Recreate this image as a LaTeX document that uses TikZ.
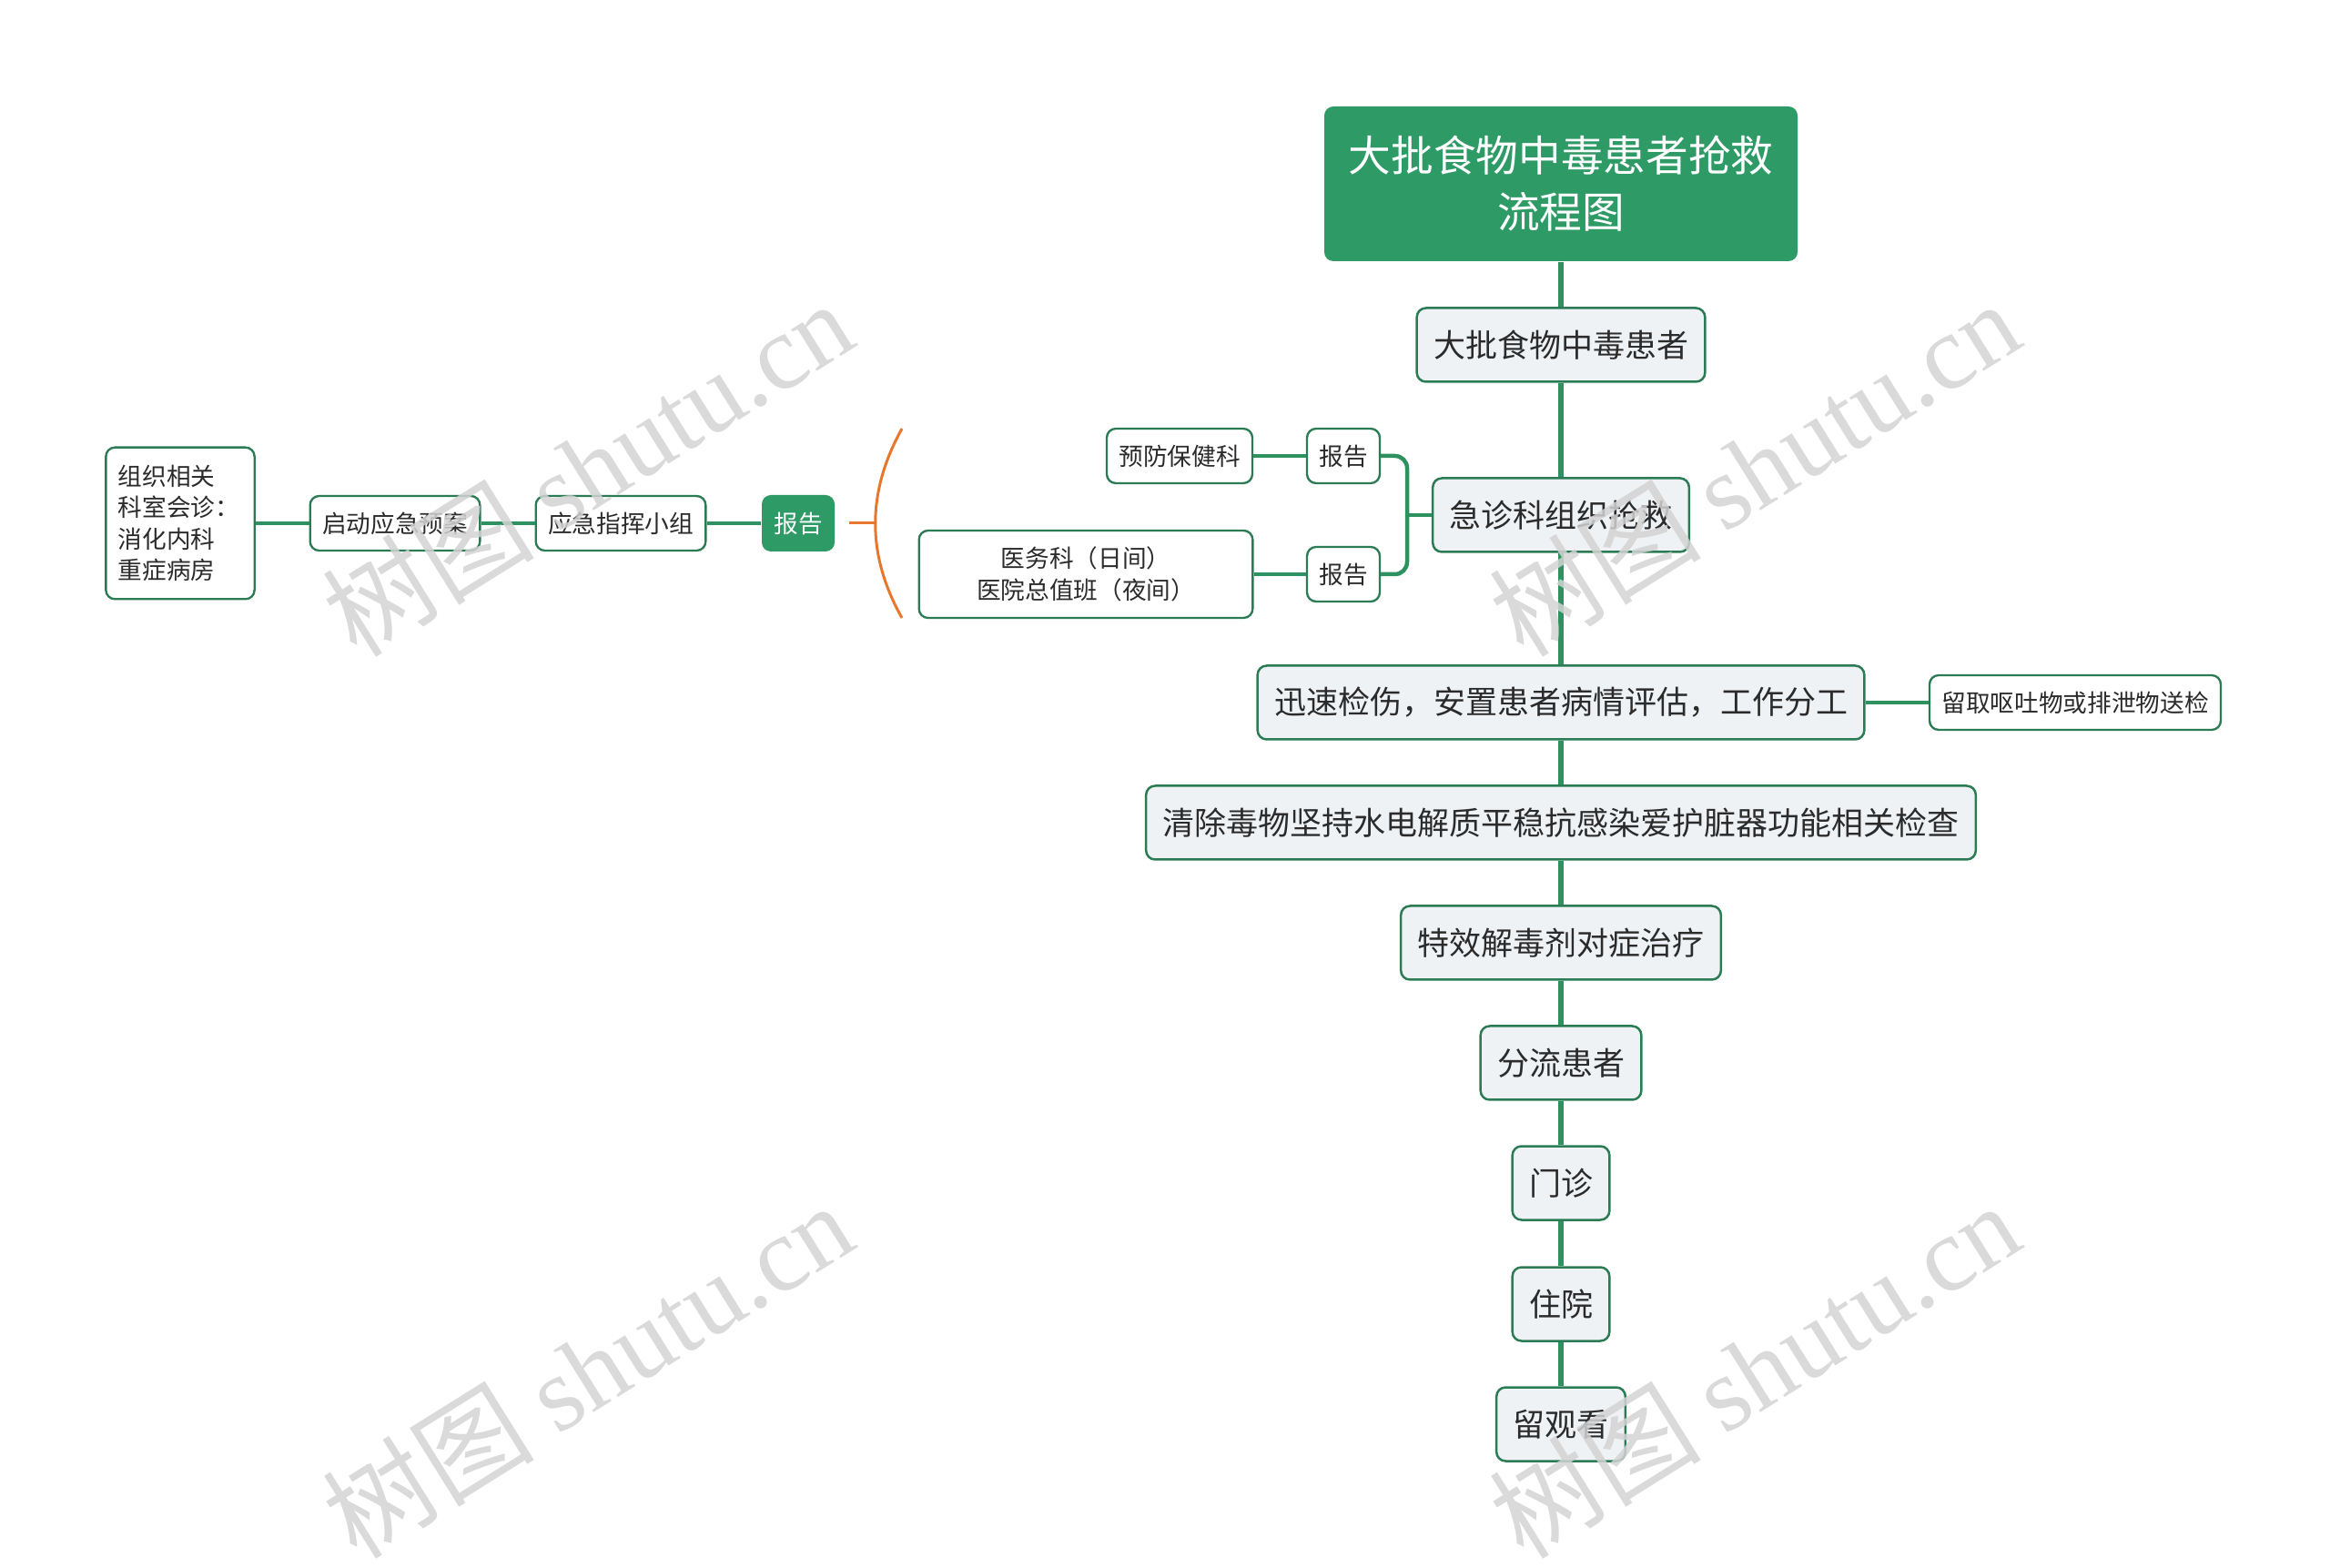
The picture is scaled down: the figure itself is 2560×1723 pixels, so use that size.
\documentclass[tikz,border=0pt]{standalone}
\usepackage{fontspec}
\setmainfont{Noto Sans CJK SC}
\newfontfamily\wmfont{Liberation Serif}
\usepackage{xcolor}
\usepackage{tikz}
\usetikzlibrary{calc}

\definecolor{mapgreen}{HTML}{2E9A66}
\definecolor{linegreen}{HTML}{2E9160}
\definecolor{edgegreen}{HTML}{2B7B55}
\definecolor{nodegray}{HTML}{EFF2F5}
\definecolor{bracketorange}{HTML}{E8772E}
\definecolor{inkgray}{HTML}{2B2B2B}
\definecolor{wmgray}{HTML}{D3D3D3}

\begin{document}
\begin{tikzpicture}[
  x=0.3pt, y=-0.3pt,
  titlebox/.style={fill=mapgreen, rounded corners=3pt, text=white, align=center,
                   minimum width=156pt, minimum height=51pt,
                   font=\fontsize{14pt}{18.6pt}\selectfont},
  mainbox/.style={draw=edgegreen, line width=0.75pt, fill=nodegray, rounded corners=3pt,
                  minimum height=24.3pt, inner xsep=5.5pt, text=inkgray,
                  font=\fontsize{10.5pt}{13pt}\selectfont},
  sidebox/.style={draw=edgegreen, line width=0.7pt, fill=white, rounded corners=3pt,
                  minimum height=18pt, inner xsep=4pt, text=inkgray, align=center,
                  font=\fontsize{8pt}{10.3pt}\selectfont},
  keybox/.style={fill=mapgreen, rounded corners=3pt, text=white,
                 minimum height=18.6pt, inner xsep=4pt,
                 font=\fontsize{8pt}{10.3pt}\selectfont},
  link/.style={draw=linegreen, line width=1.6pt},
  sublink/.style={draw=linegreen, line width=1.35pt},
  brace/.style={draw=bracketorange, line width=0.9pt},
  wmark/.style={text=wmgray, opacity=0.85, rotate=32, font=\fontsize{35pt}{37pt}\selectfont}
]
\useasboundingbox (0,0) rectangle (2560,1723);

% trunk
\node[titlebox] (title) at (1715,202) {大批食物中毒患者抢救\\流程图};
\node[mainbox] (patients) at (1715,379) {大批食物中毒患者};
\node[mainbox] (er) at (1715,566) {急诊科组织抢救};
\node[mainbox] (triage) at (1715,772) {迅速检伤，安置患者病情评估，工作分工};
\node[mainbox] (clear) at (1715,904) {清除毒物坚持水电解质平稳抗感染爱护脏器功能相关检查};
\node[mainbox] (antidote) at (1715,1036) {特效解毒剂对症治疗};
\node[mainbox] (divert) at (1715,1168) {分流患者};
\node[mainbox] (clinic) at (1715,1300) {门诊};
\node[mainbox] (ward) at (1715,1433) {住院};
\node[mainbox] (observe) at (1715,1565) {留观看};
\draw[link] (title) -- (patients);
\draw[link] (patients) -- (er);
\draw[link] (er) -- (triage);
\draw[link] (triage) -- (clear);
\draw[link] (clear) -- (antidote);
\draw[link] (antidote) -- (divert);
\draw[link] (divert) -- (clinic);
\draw[link] (clinic) -- (ward);
\draw[link] (ward) -- (observe);

% sample check
\node[sidebox] (sample) at (2280,772) {留取呕吐物或排泄物送检};
\draw[sublink] (triage) -- (sample);

% reports to the emergency room
\node[sidebox] (prevrep) at (1476,501) {报告};
\node[sidebox] (medrep) at (1476,631) {报告};
\node[sidebox] (prevent) at (1296,501) {预防保健科};
\node[sidebox, minimum width=110pt, minimum height=28.8pt] (medical) at (1193,631)
  {医务科（日间）\\医院总值班（夜间）};
\coordinate (fork) at (1546,566);
\draw[sublink, rounded corners=4pt] (prevrep.east) -| (fork) |- (medrep.east);
\draw[sublink] (fork) -- (er.west);
\draw[sublink] (prevent) -- (prevrep);
\draw[sublink] (medical) -- (medrep);

% command chain
\node[keybox] (report) at (877,575) {报告};
\node[sidebox] (command) at (682,575) {应急指挥小组};
\node[sidebox] (plan) at (434,575) {启动应急预案};
\node[sidebox, align=left, text width=41pt, minimum width=49pt, minimum height=50pt,
      inner xsep=4pt] (consult) at (198,575) {组织相关\\科室会诊：\\消化内科\\重症病房};
\draw[sublink] (consult) -- (plan);
\draw[sublink] (plan) -- (command);
\draw[sublink] (command) -- (report);

% summary bracket
\coordinate (tick) at ($(report.east)+(15,0)$);
\coordinate (bracetop) at (991,471);
\coordinate (bracemid) at (962,575);
\coordinate (bracebot) at (991,679);
\draw[brace] (tick) -- (bracemid);
\draw[brace] (bracetop) .. controls (952,541) and (952,610) .. (bracebot);

% watermarks
\node[wmark] (wm1) at (645,514) {树图 {\wmfont shutu.cn}};
\node[wmark] (wm2) at (1927,514) {树图 {\wmfont shutu.cn}};
\node[wmark] (wm3) at (645,1505) {树图 {\wmfont shutu.cn}};
\node[wmark] (wm4) at (1927,1505) {树图 {\wmfont shutu.cn}};
\end{tikzpicture}
\end{document}
